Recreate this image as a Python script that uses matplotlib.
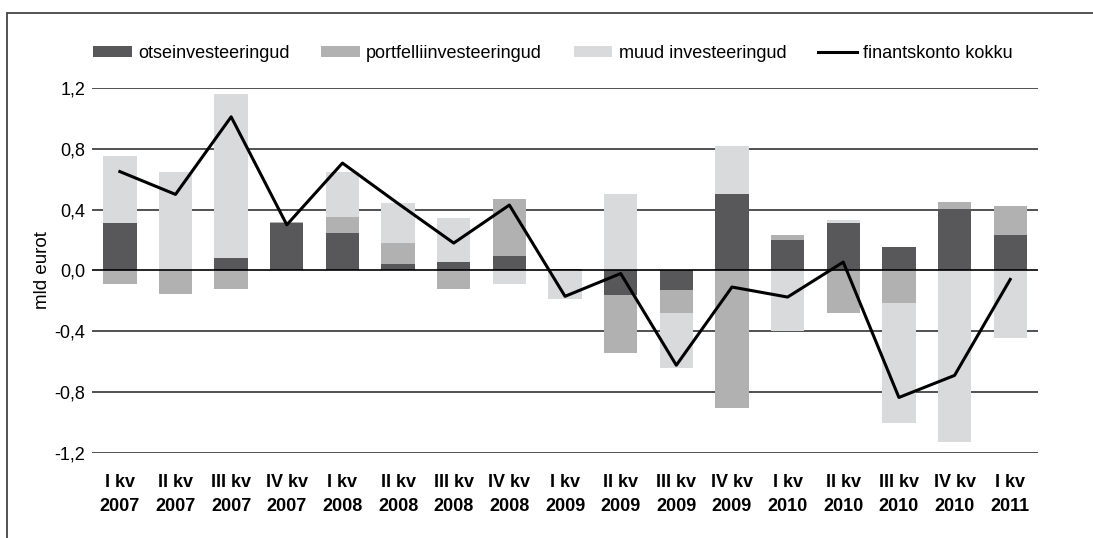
import matplotlib.pyplot as plt
import numpy as np
from matplotlib.patches import Rectangle

plt.rcParams['font.family'] = ['Liberation Sans', 'DejaVu Sans']

# Data (mld eurot)
quarters = ['I kv\n2007', 'II kv\n2007', 'III kv\n2007', 'IV kv\n2007',
            'I kv\n2008', 'II kv\n2008', 'III kv\n2008', 'IV kv\n2008',
            'I kv\n2009', 'II kv\n2009', 'III kv\n2009', 'IV kv\n2009',
            'I kv\n2010', 'II kv\n2010', 'III kv\n2010', 'IV kv\n2010',
            'I kv\n2011']
otse = [0.31, 0.0, 0.085, 0.31, 0.243, 0.04, 0.053, 0.092, 0.01,
        -0.162, -0.131, 0.505, 0.203, 0.31, 0.151, 0.407, 0.236]
portfell = [-0.09, -0.155, -0.12, 0.01, 0.111, 0.14, -0.12, 0.378, 0.0,
            -0.382, -0.151, -0.905, 0.033, -0.28, -0.214, 0.045, 0.19]
muud = [0.44, 0.65, 1.075, 0.0, 0.296, 0.266, 0.293, -0.09, -0.19,
        0.505, -0.358, 0.315, -0.40, 0.024, -0.786, -1.126, -0.444]
kokku = [0.65, 0.50, 1.01, 0.30, 0.706, 0.44, 0.18, 0.43, -0.17,
         -0.02, -0.623, -0.109, -0.175, 0.055, -0.835, -0.69, -0.059]

series = [('otseinvesteeringud', otse, '#58585a'),
          ('portfelliinvesteeringud', portfell, '#b1b1b1'),
          ('muud investeeringud', muud, '#d9dadb')]

fig = plt.figure(figsize=(10.93, 5.38), dpi=100)
ax = fig.add_axes([0.0842, 0.158, 0.8655, 0.6786])

x = np.arange(len(quarters))
pos_base = np.zeros(len(x))
neg_base = np.zeros(len(x))
for name, vals, color in series:
    v = np.array(vals)
    base = np.where(v >= 0, pos_base, neg_base)
    ax.bar(x, v, bottom=base, width=0.6, color=color, label=name, zorder=2)
    pos_base = pos_base + np.where(v >= 0, v, 0)
    neg_base = neg_base + np.where(v < 0, v, 0)

ax.plot(x, kokku, color='black', lw=2.2, label='finantskonto kokku', zorder=4)

ax.set_xlim(-0.5, len(x) - 0.5)
ax.set_ylim(-1.2, 1.2)
yt = np.arange(-1.2, 1.21, 0.4)
ax.set_yticks(yt)
ax.set_yticklabels([f'{t:.1f}'.replace('.', ',').replace('-0,0', '0,0') for t in yt], fontsize=13)
for t in yt:
    ax.axhline(t, color='black' if abs(t) < 1e-9 else '#333333', lw=1.2, zorder=1 if abs(t) > 1e-9 else 3)
ax.set_xticks(x)
ax.set_xticklabels(quarters, fontsize=13, fontweight='bold', linespacing=1.55)
ax.tick_params(length=0, pad=5)
ax.tick_params(axis='x', pad=15)
for s in ax.spines.values():
    s.set_visible(False)
ax.set_ylabel('mld eurot', fontsize=13.5, labelpad=2)

handles, labels = ax.get_legend_handles_labels()
order = [1, 2, 3, 0]
fig.legend([handles[i] for i in order], [labels[i] for i in order],
           loc='center left', bbox_to_anchor=(0.07, 0.9), ncol=4, frameon=False,
           fontsize=13, handlelength=2.15, handleheight=0.55, handletextpad=0.35,
           columnspacing=1.75)

fig.patches.append(Rectangle((0.0064, -0.1), 1.2, 1.0758, transform=fig.transFigure,
                             fill=False, edgecolor='#444444', lw=1.3))

fig.savefig('out.png', dpi=100)
